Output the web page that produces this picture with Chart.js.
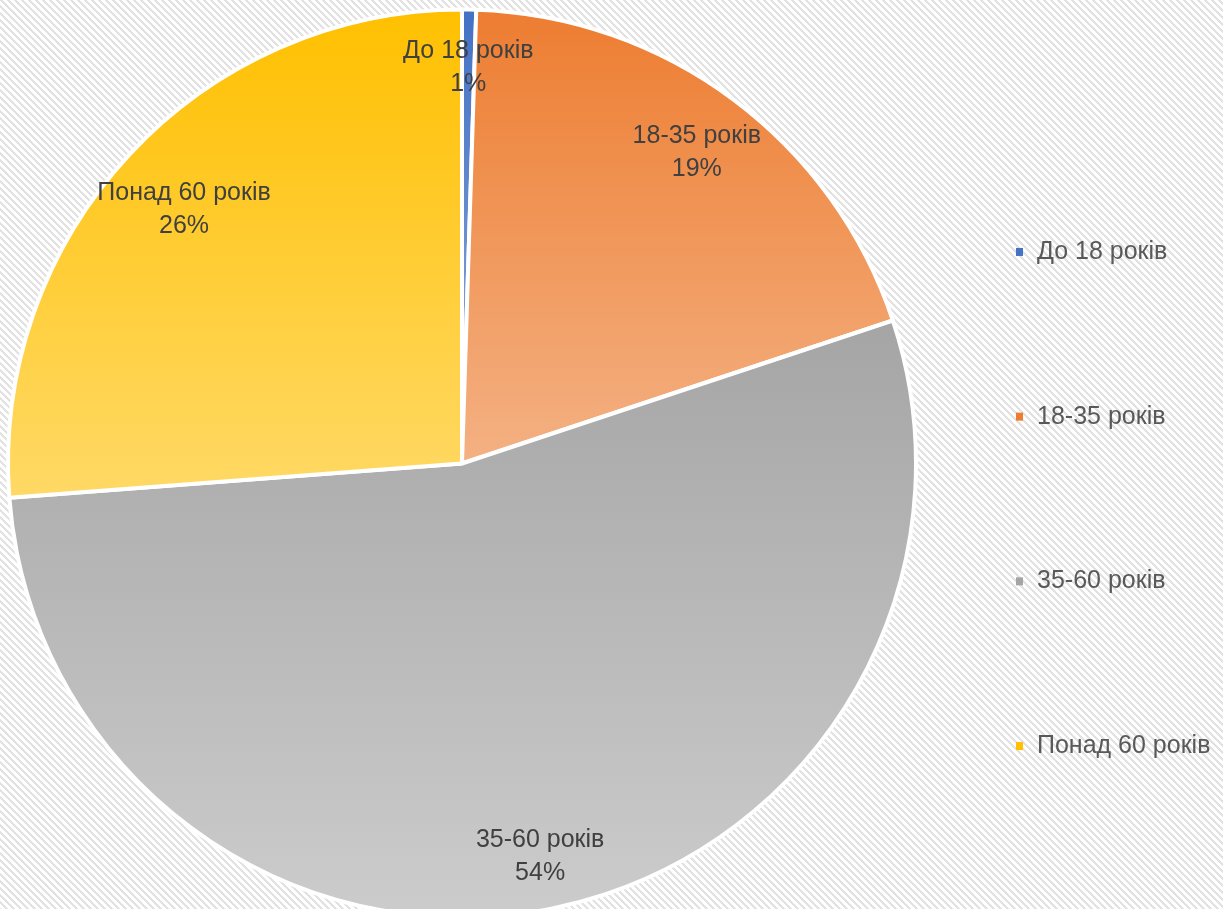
<!DOCTYPE html>
<html>
<head>
<meta charset="utf-8">
<script src="https://cdn.jsdelivr.net/npm/chart.js@4/dist/chart.umd.min.js"></script>
<style>
  html, body { margin: 0; padding: 0; background: #fff; }
  #wrap { width: 1223px; height: 909px; }
</style>
</head>
<body>
<div id="wrap"><canvas id="pie" width="1223" height="909"></canvas></div>
<script>
// age groups and their shares (percent)
const ageGroups = ['До 18 років', '18-35 років', '35-60 років', 'Понад 60 років']
const shares = [0.5, 19.4, 53.9, 26.2]

// top / bottom colour of each slice gradient
const topColors = ['#4472C4', '#ED7D31', '#A5A5A5', '#FFC000']
const bottomColors = ['#8FAADC', '#F4B183', '#CCCCCC', '#FFD966']

const FONT = '"Liberation Sans", Arial, sans-serif'
const PIE_RADIUS = 454

// stripes pattern for the background
function makeStripes() {
    const n = 7
    const tile = document.createElement('canvas')
    tile.width = n
    tile.height = n
    const t = tile.getContext('2d')
    t.fillStyle = '#ffffff'
    t.fillRect(0, 0, n, n)
    t.fillStyle = '#e2e2e2'
    for (let y = 0; y < n; y++) {
        for (let x = 0; x < n; x++) {
            if ((((x - y) % n) + n) % n < 3) t.fillRect(x, y, 1, 1)
        }
    }
    return tile
}

// vertical extent of a slice, so every slice gets its own gradient
function sliceGradient(ctx) {
    const chart = ctx.chart
    const ca = chart.chartArea
    const i = ctx.dataIndex
    if (!ca) return topColors[i]
    const cy = (ca.top + ca.bottom) / 2
    const r = PIE_RADIUS
    const total = shares.reduce((a, b) => a + b, 0)
    let start = 0
    for (let k = 0; k < i; k++) start += shares[k]
    const a0 = start / total * 360
    const a1 = (start + shares[i]) / total * 360
    let minY = cy, maxY = cy
    const pts = [a0, a1]
    if (a0 <= 0 || a1 >= 360) pts.push(0)
    if (a0 <= 180 && a1 >= 180) pts.push(180)
    pts.forEach(a => {
        const y = cy - r * Math.cos(a * Math.PI / 180)
        minY = Math.min(minY, y)
        maxY = Math.max(maxY, y)
    })
    const g = chart.ctx.createLinearGradient(0, minY, 0, maxY)
    g.addColorStop(0, topColors[i])
    g.addColorStop(1, bottomColors[i])
    return g
}

const background = {
    id: 'background',
    beforeDraw(chart) {
        const c = chart.ctx
        c.save()
        c.fillStyle = c.createPattern(makeStripes(), 'repeat')
        c.fillRect(0, 0, chart.width, chart.height)
        c.restore()
    }
}

const sliceLabels = {
    id: 'sliceLabels',
    afterDatasetsDraw(chart) {
        const c = chart.ctx
        const total = shares.reduce((a, b) => a + b, 0)
        const dist = [0.88, 0.865, 0.875, 0.835]
        c.save()
        c.font = '25px ' + FONT
        c.fillStyle = '#404040'
        c.textAlign = 'center'
        c.textBaseline = 'middle'
        chart.getDatasetMeta(0).data.forEach((arc, i) => {
            const p = arc.getProps(['x', 'y', 'startAngle', 'endAngle', 'outerRadius'], true)
            const mid = (p.startAngle + p.endAngle) / 2
            const x = p.x + Math.cos(mid) * p.outerRadius * dist[i]
            const y = p.y + Math.sin(mid) * p.outerRadius * dist[i]
            c.fillText(ageGroups[i], x, y - 13)
            c.fillText(Math.round(shares[i] / total * 100) + '%', x, y + 20)
        })
        c.restore()
    }
}

const sideLegend = {
    id: 'sideLegend',
    afterDraw(chart) {
        const c = chart.ctx
        const spacing = 164.7
        const midY = 499
        const n = ageGroups.length
        c.save()
        c.font = '25px ' + FONT
        c.textBaseline = 'middle'
        ageGroups.forEach((name, i) => {
            const y = midY + (i - (n - 1) / 2) * spacing
            c.fillStyle = topColors[i]
            c.fillRect(1016, y - 4, 7, 8)
            c.fillStyle = '#595959'
            c.fillText(name, 1037, y)
        })
        c.restore()
    }
}

const ctx = document.querySelector('#pie')
const pieChart = new Chart(ctx, {
    type: 'pie',
    data: {
        labels: ageGroups,
        datasets: [{
            data: shares,
            backgroundColor: sliceGradient,
            borderColor: '#ffffff',
            borderWidth: 4,
            radius: PIE_RADIUS
        }]
    },
    options: {
        responsive: false,
        animation: false,
        layout: { padding: { top: 18, right: 299, bottom: 0, left: 0 } },
        plugins: {
            legend: { display: false },
            tooltip: { enabled: false }
        }
    },
    plugins: [background, sliceLabels, sideLegend]
})
</script>
</body>
</html>
